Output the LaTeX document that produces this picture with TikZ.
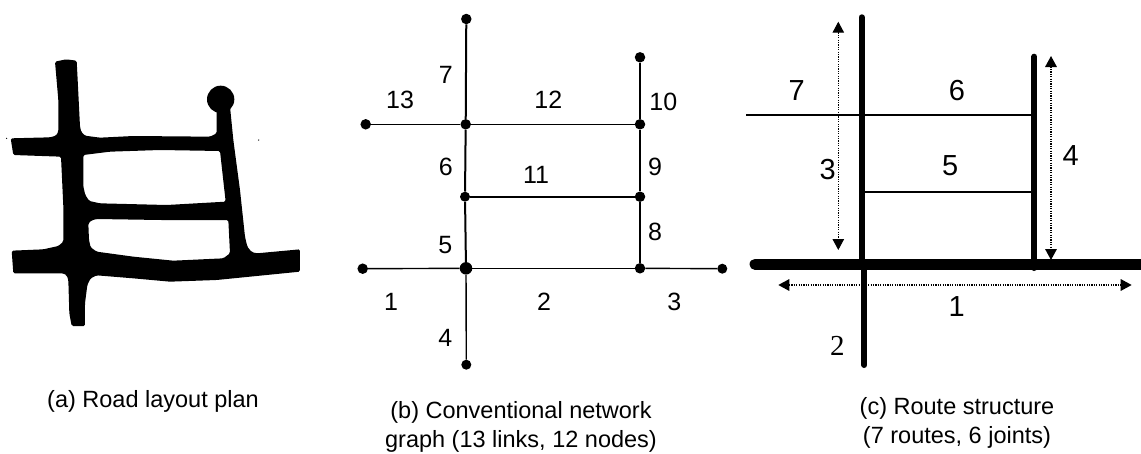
\documentclass[tikz,border=0pt]{standalone}
\usepackage{fontspec}
\setmainfont{Liberation Sans}
\usetikzlibrary{arrows.meta}
\tikzset{
  dot/.style={circle,fill=black,draw=none,minimum size=#1,inner sep=0pt},
  dot/.default=10.5pt,
  link/.style={line width=1.4pt,black},
  linkbold/.style={line width=2pt,black},
  lbl/.style={inner sep=0pt,font=\fontsize{25}{28}\selectfont},
  lblc/.style={inner sep=0pt,font=\fontsize{29}{32}\selectfont},
  capt/.style={inner sep=0pt,align=center,font=\fontsize{23.5}{29}\selectfont},
  route/.style={line width=#1,black,line cap=round},
  dim/.style={line width=#1,black,dash pattern=on 1.2pt off 1.2pt,{Triangle[width=11.5pt,length=11pt]}-{Triangle[width=11.5pt,length=11pt]}},
}
\begin{document}
\begin{tikzpicture}[x=1pt,y=-1pt]
\useasboundingbox (0,0) rectangle (1141,453);
% (a) road plan
\begin{scope}[shift={(0,40)},x=0.33333pt,y=-0.33333pt]
\fill[black,even odd rule,rounded corners=1.5pt]
 (165,65) -- (198,58) -- (230,62) -- (232,100) -- (240,260) -- (244,276) -- (255,287) -- (300,293) -- (400,288) -- (630,290) -- (650,280) -- (650,200) -- (690,200) -- (700,300) -- (720,450) -- (735,590) -- (742,620) -- (755,636) -- (770,640) -- (900,628) -- (900,695) -- (800,705) -- (650,720) -- (510,725) -- (400,715) -- (290,706) -- (272,715) -- (262,735) -- (255,790) -- (255,858) -- (215,858) -- (208,820) -- (205,720) -- (200,706) -- (190,700) -- (40,700) -- (35,632) -- (130,628) -- (175,618) -- (190,605) -- (190,500) -- (183,350) -- (40,345) -- (32,295) -- (150,292) -- (168,287) -- (175,275) -- (175,180) -- cycle
 (250,345) -- (330,335) -- (480,330) -- (660,333) -- (677,485) -- (500,495) -- (300,490) -- (268,483) -- (256,465) -- (250,440) -- cycle
 (265,550) -- (275,541) -- (290,537) -- (480,540) -- (685,540) -- (690,640) -- (670,655) -- (520,662) -- (400,650) -- (290,635) -- (272,622) -- (267,600) -- cycle;
\fill[black] (662,178) circle (41);
\fill[black] (776,300) circle (2);
\fill[black] (20,295) circle (2);
\end{scope}
\node[capt] (capa) at (153,401) {(a) Road layout plan};
% (b) network graph
\node[dot] (t7) at (466.3,19) {};
\node[dot] (t10) at (640,57.3) {};
\node[dot] (l13) at (365.7,124.3) {};
\node[dot] (j1) at (465.7,124.3) {};
\node[dot] (j2) at (640,124.3) {};
\node[dot=10pt] (m1) at (465,196.7) {};
\node[dot] (m2) at (640,196.7) {};
\node[dot] (l1) at (362.7,268.7) {};
\node[dot=12.5pt] (c1) at (466,268.3) {};
\node[dot] (c2) at (640,268.3) {};
\node[dot=10pt] (r3) at (722.3,268.7) {};
\node[dot=10pt] (b4) at (466.3,364.7) {};
\draw[linkbold] (t7) -- (j1);
\draw[linkbold] (j1) -- (m1);
\draw[linkbold] (m1) -- (c1);
\draw[link] (c1) -- (b4);
\draw[link] (l13) -- (j1);
\draw[link] (j1) -- (j2);
\draw[linkbold] (m1) -- (m2);
\draw[link] (l1) -- (c1);
\draw[link] (c1) -- (c2);
\draw[link] (c2) -- (r3);
\draw[link] (t10) -- (j2);
\draw[link] (j2) -- (m2);
\draw[link] (m2) -- (c2);
\node[lbl] (n7) at (445.7,75) {7};
\node[lbl] (n13) at (400,100) {13};
\node[lbl] (n12) at (548.3,100) {12};
\node[lbl] (n10) at (663.3,101.7) {10};
\node[lbl] (n6) at (445.7,167.3) {6};
\node[lbl] (n11) at (536,175) {11};
\node[lbl] (n9) at (655,166.7) {9};
\node[lbl] (n8) at (655,231.7) {8};
\node[lbl] (n5) at (445.3,245) {5};
\node[lbl] (n1) at (391,301.7) {1};
\node[lbl] (n2) at (544,301.7) {2};
\node[lbl] (n3) at (674.3,301.7) {3};
\node[lbl] (n4) at (445.3,338.3) {4};
\node[capt] (capb) at (521,426.5) {(b) Conventional network\\graph (13 links, 12 nodes)};
% (c) route structure
\coordinate (v1t) at (861.7,17.3);
\coordinate (v1b) at (861.7,263);
\coordinate (v2t) at (864.3,270);
\coordinate (v2b) at (864.3,365);
\coordinate (hl) at (755,264.3);
\coordinate (hr) at (1150,264.3);
\coordinate (v3t) at (1034.3,56.7);
\coordinate (v3b) at (1034.3,268);
\coordinate (r7l) at (746,114.7);
\coordinate (r7r) at (1031.7,114.7);
\coordinate (r5l) at (865,191.7);
\coordinate (r5r) at (1031.7,191.7);
\coordinate (d3t) at (838.3,21.7);
\coordinate (d3b) at (838.3,250);
\coordinate (d4t) at (1051,56);
\coordinate (d4b) at (1051,260);
\coordinate (d1l) at (778.3,285);
\coordinate (d1r) at (1131.7,285);
\draw[black,line width=2pt] (r7l) -- (r7r);
\draw[black,line width=2pt] (r5l) -- (r5r);
\draw[route=6pt] (v1t) -- (v1b);
\draw[route=6pt] (v2t) -- (v2b);
\draw[route=6pt] (v3t) -- (v3b);
\draw[route=11pt] (hl) -- (hr);
\draw[dim=1pt] (d3t) -- (d3b);
\draw[dim=1.6pt] (d4t) -- (d4b);
\draw[dim=1.6pt] (d1l) -- (d1r);
\node[lblc] (c7) at (796.7,90.7) {7};
\node[lblc] (c6) at (957,90.7) {6};
\node[lblc] (c3) at (827.7,170) {3};
\node[lblc] (c5) at (950.3,166) {5};
\node[lblc] (c4) at (1070.7,155.7) {4};
\node[lblc] (c1l) at (956.7,306.7) {1};
\node[lblc,font=\fontsize{29}{32}\fontspec{Liberation Serif}] (c2l) at (837.3,345.7) {2};
\node[capt] (capc) at (957,423) {(c) Route structure\\(7 routes, 6 joints)};
\end{tikzpicture}
\end{document}
